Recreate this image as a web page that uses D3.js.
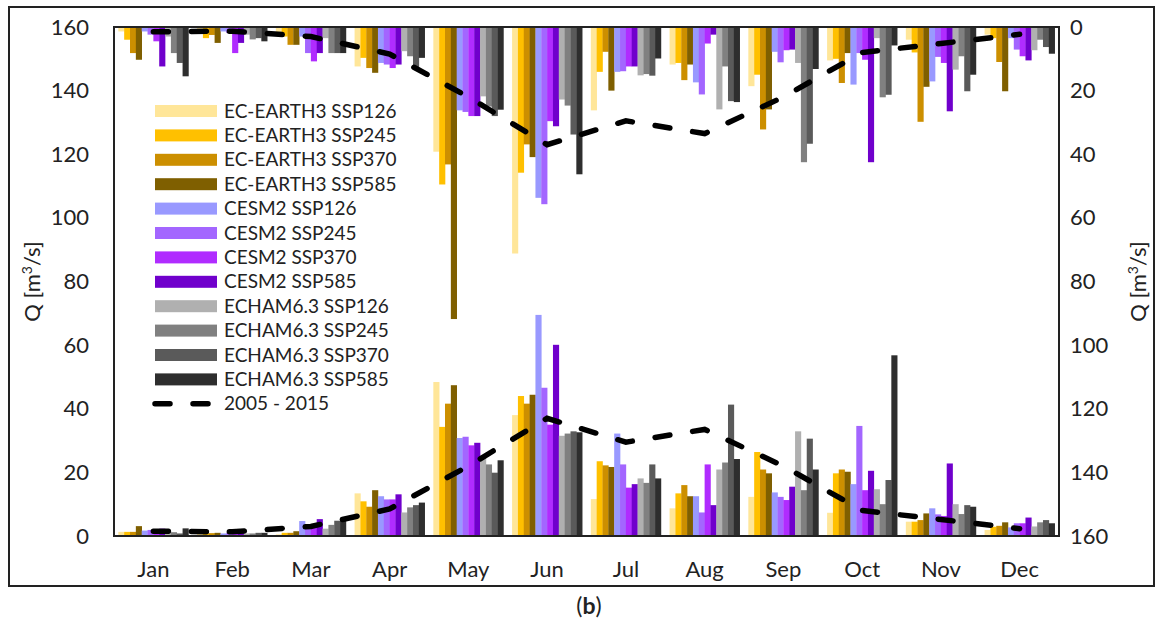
<!DOCTYPE html>
<html>
<head>
<meta charset="utf-8">
<script src="https://cdn.jsdelivr.net/npm/d3@7"></script>
<style>
  body { margin: 0; background: #fff; }
  text { font-family: Lato, "Open Sans", sans-serif; fill: #222; }
</style>
</head>
<body>
<svg id="chart" width="1163" height="624"></svg>
<script>
// months and series
const months = ["Jan", "Feb", "Mar", "Apr", "May", "Jun", "Jul", "Aug", "Sep", "Oct", "Nov", "Dec"];
const seriesNames = [
  "EC-EARTH3 SSP126", "EC-EARTH3 SSP245", "EC-EARTH3 SSP370", "EC-EARTH3 SSP585",
  "CESM2 SSP126", "CESM2 SSP245", "CESM2 SSP370", "CESM2 SSP585",
  "ECHAM6.3 SSP126", "ECHAM6.3 SSP245", "ECHAM6.3 SSP370", "ECHAM6.3 SSP585"
];
const seriesColors = [
  "#ffe699", "#ffc000", "#cc8f00", "#7f5f00",
  "#9999ff", "#a366ff", "#b02cff", "#7000cc",
  "#b0b0b0", "#808080", "#5a5a5a", "#2e2e2e"
];
const lineName = "2005 - 2015";

// bars standing on the left axis (Q, m3/s)
const ecEarth126Low = [1.3, 0.8, 0.5, 13.4, 48.4, 38.0, 11.6, 8.7, 12.3, 7.3, 4.5, 1.9];
const ecEarth245Low = [1.3, 0.8, 1.0, 10.9, 34.3, 44.0, 23.5, 13.4, 26.4, 19.7, 4.5, 2.9];
const ecEarth370Low = [1.3, 0.9, 1.0, 9.2, 41.6, 41.6, 22.2, 16.0, 20.9, 20.9, 5.0, 3.2];
const ecEarth585Low = [3.1, 1.0, 1.5, 14.4, 47.4, 44.4, 21.7, 12.5, 19.7, 20.2, 7.1, 4.3];
const cesm126Low = [1.7, 0.8, 4.7, 12.5, 30.8, 69.5, 32.2, 12.5, 13.7, 16.3, 8.7, 2.7];
const cesm245Low = [1.9, 1.0, 3.5, 11.5, 31.2, 46.6, 22.5, 7.4, 12.3, 34.6, 6.8, 4.0];
const cesm370Low = [1.9, 1.0, 3.1, 11.5, 28.5, 35.0, 15.2, 22.5, 11.3, 14.4, 6.3, 4.0];
const cesm585Low = [2.3, 1.0, 5.3, 13.1, 29.3, 60.1, 16.3, 9.7, 15.5, 20.5, 22.8, 5.8];
const echam126Low = [1.7, 0.8, 2.3, 7.4, 25.4, 31.5, 18.1, 20.9, 32.9, 14.7, 10.0, 3.0];
const echam245Low = [1.2, 0.8, 3.5, 9.0, 22.5, 32.2, 16.7, 23.1, 14.4, 10.0, 6.9, 4.3];
const echam370Low = [0.8, 1.0, 4.8, 9.7, 19.9, 32.9, 22.5, 41.3, 30.6, 17.6, 9.7, 5.0];
const echam585Low = [2.4, 1.0, 5.3, 10.5, 23.8, 32.6, 18.1, 24.2, 20.9, 56.8, 9.2, 4.0];

// bars hanging from the right (reversed) axis
const ecEarth126High = [1.4, 1.9, 2.4, 12.4, 39.2, 71.2, 26.2, 11.8, 18.6, 10.5, 4.0, 2.4];
const ecEarth245High = [4.0, 3.5, 3.0, 9.7, 49.5, 45.8, 14.1, 11.3, 15.0, 10.0, 8.0, 3.5];
const ecEarth370High = [8.2, 2.5, 5.6, 12.9, 43.2, 36.9, 7.8, 16.7, 32.2, 17.6, 29.8, 11.0];
const ecEarth585High = [10.3, 5.0, 5.6, 14.4, 91.8, 40.9, 20.0, 11.8, 25.9, 8.2, 18.8, 20.2];
const cesm126High = [1.4, 1.4, 3.0, 11.3, 26.2, 53.7, 14.1, 17.4, 7.8, 18.1, 17.1, 3.5];
const cesm245High = [2.4, 1.9, 8.2, 11.8, 26.7, 55.7, 13.9, 21.2, 11.1, 8.2, 9.4, 7.1];
const cesm370High = [4.5, 8.2, 10.8, 12.9, 28.0, 29.6, 12.4, 5.2, 7.3, 10.3, 11.3, 9.2];
const cesm585High = [12.4, 5.0, 8.2, 11.8, 28.0, 31.2, 12.4, 2.4, 7.1, 42.5, 26.5, 10.5];
const echam126High = [3.0, 2.4, 3.5, 7.6, 21.8, 22.8, 15.2, 25.9, 11.3, 3.5, 13.4, 7.3];
const echam245High = [8.2, 3.9, 8.2, 9.2, 25.0, 24.7, 14.8, 12.4, 42.5, 22.1, 9.2, 4.0];
const echam370High = [11.3, 3.5, 8.2, 12.9, 28.0, 33.8, 15.3, 23.3, 36.7, 21.3, 20.2, 6.3];
const echam585High = [15.5, 4.5, 8.2, 9.7, 26.0, 46.3, 9.9, 23.6, 13.2, 5.8, 15.0, 8.4];

// observed 2005 - 2015 (plotted against both axes)
const observed = [1.5, 1.3, 3.0, 8.5, 22.0, 37.0, 29.5, 33.5, 22.0, 8.0, 5.2, 2.3];

const yTicks = [0, 20, 40, 60, 80, 100, 120, 140, 160];

const lowSeries = [ecEarth126Low, ecEarth245Low, ecEarth370Low, ecEarth585Low,
  cesm126Low, cesm245Low, cesm370Low, cesm585Low,
  echam126Low, echam245Low, echam370Low, echam585Low];
const highSeries = [ecEarth126High, ecEarth245High, ecEarth370High, ecEarth585High,
  cesm126High, cesm245High, cesm370High, cesm585High,
  echam126High, echam245High, echam370High, echam585High];

const svg = d3.select("#chart");
const plot = {left: 114, right: 1059, top: 27, bottom: 536};

// outer frame
svg.append("rect")
  .attr("x", 9).attr("y", 7)
  .attr("width", 1145).attr("height", 579)
  .attr("fill", "none").attr("stroke", "#222").attr("stroke-width", 2);

const x0 = d3.scaleBand()
  .domain(months)
  .range([plot.left, plot.right])
  .paddingInner(0.11)
  .paddingOuter(0.055);
const x1 = d3.scaleBand()
  .domain(d3.range(seriesNames.length))
  .range([0, x0.bandwidth()]);

const yLeft = d3.scaleLinear().domain([0, 160]).range([plot.bottom, plot.top]);
const yRight = d3.scaleLinear().domain([0, 160]).range([plot.top, plot.bottom]);

const bars = svg.append("g");

// lower bars
lowSeries.forEach((vals, s) => {
  bars.append("g")
    .attr("fill", seriesColors[s])
    .selectAll("rect")
    .data(vals)
    .join("rect")
      .attr("x", (d, i) => x0(months[i]) + x1(s))
      .attr("y", d => yLeft(d))
      .attr("width", x1.bandwidth() + 0.3)
      .attr("height", d => yLeft(0) - yLeft(d));
});

// hanging bars
highSeries.forEach((vals, s) => {
  bars.append("g")
    .attr("fill", seriesColors[s])
    .selectAll("rect")
    .data(vals)
    .join("rect")
      .attr("x", (d, i) => x0(months[i]) + x1(s))
      .attr("y", yRight(0))
      .attr("width", x1.bandwidth() + 0.3)
      .attr("height", d => yRight(d) - yRight(0));
});

// observed dashed lines
const cx = (d, i) => x0(months[i]) + x0.bandwidth() / 2;
const dashStyle = sel => sel
  .attr("fill", "none")
  .attr("stroke", "#000")
  .attr("stroke-width", 5.5)
  .attr("stroke-linecap", "round")
  .attr("stroke-dasharray", "15 23");

svg.append("path")
  .datum(observed)
  .attr("d", d3.line().x(cx).y(d => yLeft(d)))
  .call(dashStyle);
svg.append("path")
  .datum(observed)
  .attr("d", d3.line().x(cx).y(d => yRight(d)))
  .call(dashStyle);

// plot frame
svg.append("rect")
  .attr("x", plot.left).attr("y", plot.top)
  .attr("width", plot.right - plot.left).attr("height", plot.bottom - plot.top)
  .attr("fill", "none").attr("stroke", "#222").attr("stroke-width", 2);

// axes
const fontAxis = "22px";
const leftAxis = svg.append("g")
  .attr("transform", `translate(${plot.left},0)`)
  .call(d3.axisLeft(yLeft).tickValues(yTicks).tickSize(0).tickPadding(25));
const rightAxis = svg.append("g")
  .attr("transform", `translate(${plot.right},0)`)
  .call(d3.axisRight(yRight).tickValues(yTicks).tickSize(0).tickPadding(11));
const xAxis = svg.append("g")
  .attr("transform", `translate(0,${plot.bottom})`)
  .call(d3.axisBottom(x0).tickSize(0).tickPadding(25));
[leftAxis, rightAxis, xAxis].forEach(a => {
  a.select(".domain").remove();
  a.selectAll("text")
    .style("font-family", "Lato, 'Open Sans', sans-serif")
    .style("font-size", fontAxis)
    .attr("fill", "#222");
});

// axis titles
function axisTitle(xPos) {
  const t = svg.append("text")
    .attr("transform", `translate(${xPos},${(plot.top + plot.bottom) / 2}) rotate(-90)`)
    .attr("text-anchor", "middle")
    .style("font-size", fontAxis);
  t.append("tspan").text("Q [m");
  t.append("tspan").attr("dy", -8).style("font-size", "14px").text("3");
  t.append("tspan").attr("dy", 8).text("/s]");
}
axisTitle(40);
axisTitle(1146);

// legend
const legend = svg.append("g").attr("transform", "translate(155,111)");
const rowH = 24.4;
seriesNames.forEach((name, i) => {
  const g = legend.append("g").attr("transform", `translate(0,${i * rowH})`);
  g.append("rect")
    .attr("x", 0).attr("y", -6)
    .attr("width", 62).attr("height", 12)
    .attr("fill", seriesColors[i]);
  g.append("text")
    .attr("x", 69).attr("dy", "0.35em")
    .style("font-size", "19px")
    .text(name);
});
const lg = legend.append("g").attr("transform", `translate(0,${seriesNames.length * rowH})`);
lg.append("line")
  .attr("x1", 0).attr("x2", 62)
  .attr("stroke", "#000").attr("stroke-width", 5.5)
  .attr("stroke-linecap", "round")
  .attr("stroke-dasharray", "15 23");
lg.append("text")
  .attr("x", 69).attr("dy", "0.35em")
  .style("font-size", "19px")
  .text(lineName);

// panel caption
const cap = svg.append("text")
  .attr("x", 589).attr("y", 614)
  .attr("text-anchor", "middle")
  .style("font-size", "23px");
cap.append("tspan").text("(");
cap.append("tspan").style("font-weight", "bold").text("b");
cap.append("tspan").text(")");
</script>
</body>
</html>
